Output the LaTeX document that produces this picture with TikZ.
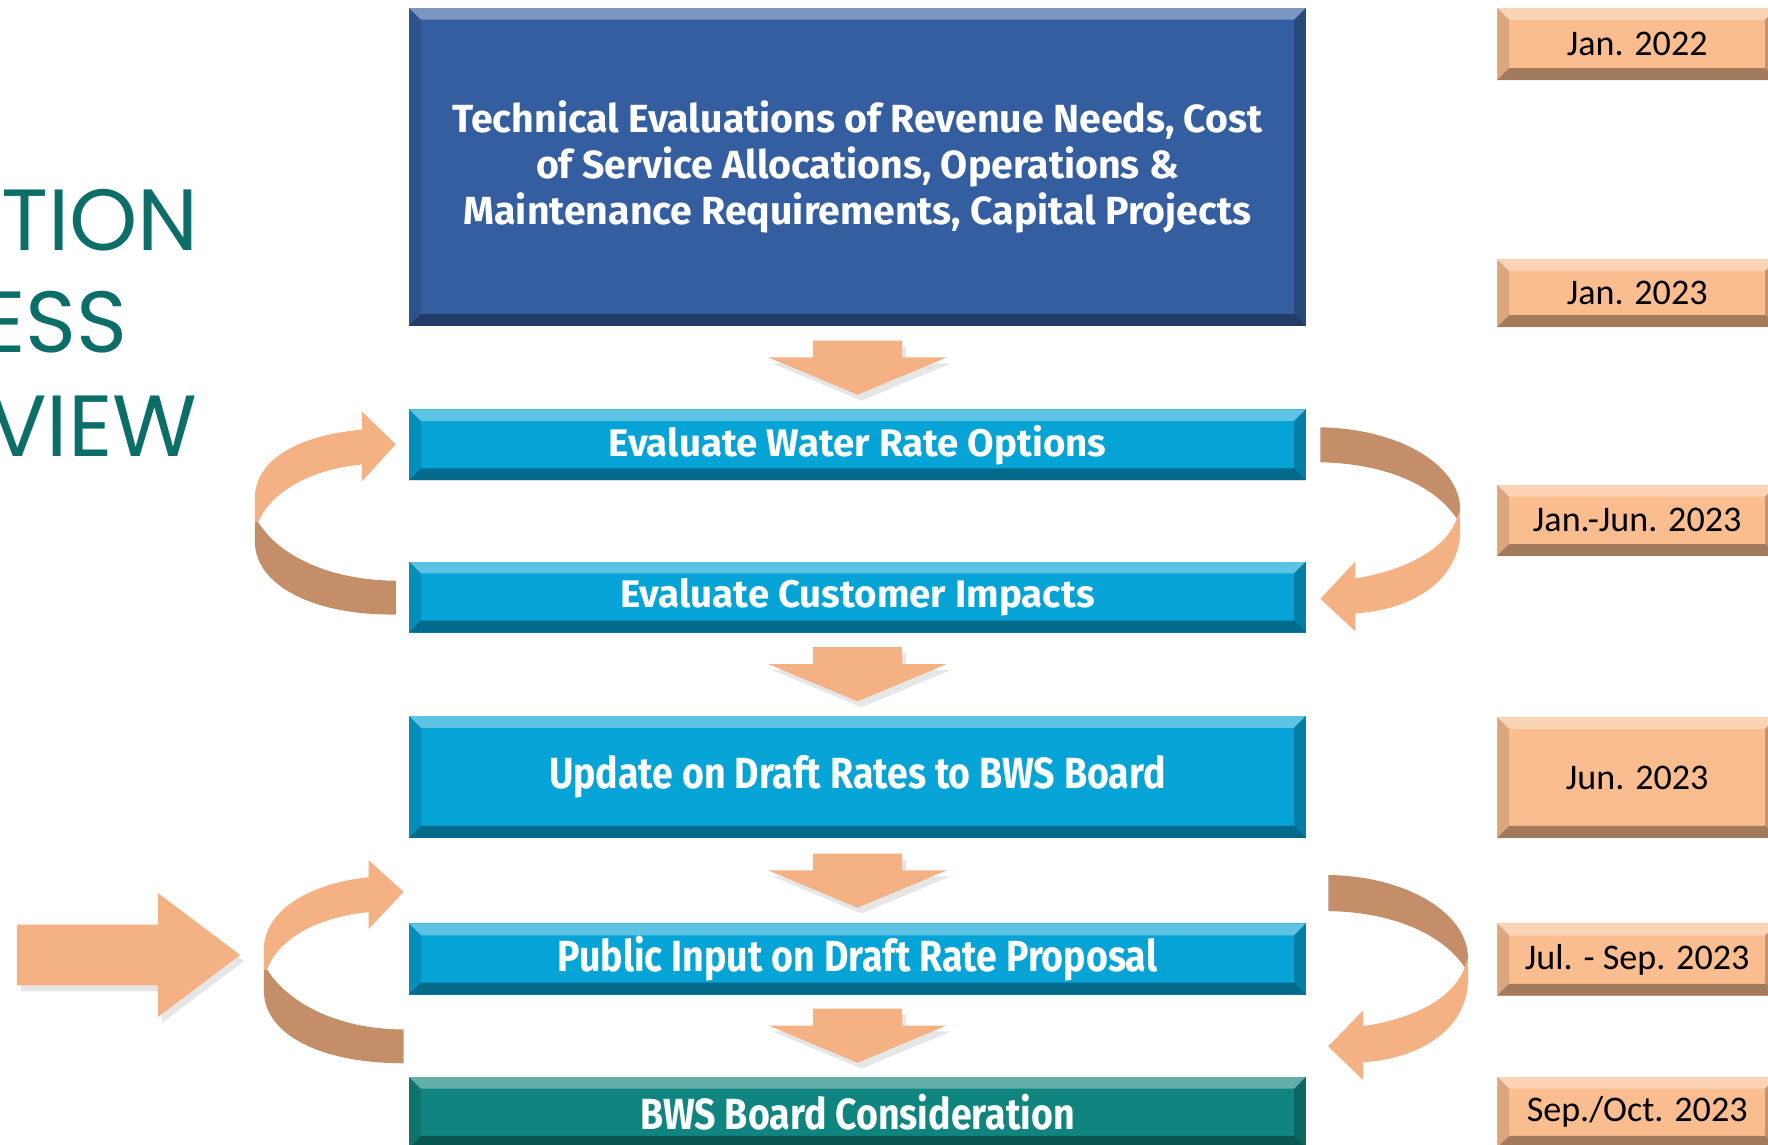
\documentclass[tikz,border=0pt]{standalone}
\usepackage{fontspec}
\setmainfont{Carlito}
\newfontfamily\stagefont{Fira Sans}
\newfontfamily\stagefontcn[FakeStretch=0.86]{Fira Sans}
\newfontfamily\titlefont{Poppins}
\usetikzlibrary{shadows,calc}

\definecolor{techblue}{HTML}{355EA0}
\definecolor{stagecyan}{HTML}{05A3D6}
\definecolor{boardteal}{HTML}{10857F}
\definecolor{datepeach}{HTML}{FABD8F}
\definecolor{arrowpeach}{HTML}{F4B183}
\definecolor{arrowbrown}{HTML}{C38E68}
\definecolor{titleteal}{HTML}{0D6E69}

\begin{document}
\begin{tikzpicture}[x=0.01cm,y=-0.01cm,
    bevel/.style={path picture={
        \coordinate (bnw) at (path picture bounding box.north west);
        \coordinate (bne) at (path picture bounding box.north east);
        \coordinate (bsw) at (path picture bounding box.south west);
        \coordinate (bse) at (path picture bounding box.south east);
        \fill[white,opacity=.35] (bnw) -- (bne) -- ([shift={(-3pt,-3pt)}]bne) -- ([shift={(3pt,-3pt)}]bnw) -- cycle;
        \fill[black,opacity=.35] (bsw) -- (bse) -- ([shift={(-3pt,3pt)}]bse) -- ([shift={(3pt,3pt)}]bsw) -- cycle;
        \fill[black,opacity=.12] (bnw) -- (bsw) -- ([shift={(3pt,3pt)}]bsw) -- ([shift={(3pt,-3pt)}]bnw) -- cycle;
        \fill[black,opacity=.22] (bne) -- (bse) -- ([shift={(-3pt,3pt)}]bse) -- ([shift={(-3pt,-3pt)}]bne) -- cycle;
    }},
    stage/.style={rectangle,fill=stagecyan,bevel,minimum width=7.95cm,inner sep=0pt,text=white,align=center,
        font=\stagefont\bfseries\fontsize{9.7}{11.6}\selectfont},
    bigstage/.style={stage,font=\stagefontcn\bfseries\fontsize{11}{13}\selectfont},
    datebox/.style={rectangle,fill=datepeach,bevel,minimum width=2.48cm,inner sep=0pt,font=\fontsize{9.1}{11}\selectfont},
    titletext/.style={anchor=base east,inner sep=0pt,text=titleteal,font=\titlefont\fontsize{21.9}{26}\selectfont},
    flowarrow/.style={fill=arrowpeach,drop shadow={opacity=.2,shadow xshift=1pt,shadow yshift=-1.5pt}},
    downarrow/.pic={\fill[flowarrow] (-39.5,-24) -- (39.5,-24) -- (39.5,-9) -- (79,-9) -- (0,24) -- (-79,-9) -- (-39.5,-9) -- cycle;}
]
    \useasboundingbox (0,0) rectangle (1568,1015);
    \clip (0,0) rectangle (1568,1015);

    \node[titletext] (title1) at (177,222) {TION};
    \node[titletext] (title2) at (114,313) {ESS};
    \node[titletext] (title3) at (176,405) {VIEW};

    \node[stage,fill=techblue,minimum height=2.82cm,font=\stagefont\bfseries\fontsize{9.9}{11.55}\selectfont] (tech) at (760.5,148)
        {Technical Evaluations of Revenue Needs, Cost\\of Service Allocations, Operations \&\\Maintenance Requirements, Capital Projects};
    \node[stage,minimum height=0.63cm] (water) at (760.5,394.5) {Evaluate Water Rate Options};
    \node[stage,minimum height=0.63cm] (customer) at (760.5,529.5) {Evaluate Customer Impacts};
    \node[bigstage,minimum height=1.08cm] (update) at (760.5,689) {Update on Draft Rates to BWS Board};
    \node[bigstage,minimum height=0.63cm] (public) at (760.5,850.5) {Public Input on Draft Rate Proposal};
    \node[bigstage,fill=boardteal,minimum height=0.63cm] (board) at (760.5,986.5) {BWS Board Consideration};

    \node[datebox,minimum height=0.64cm] (d2022) at (1452,39) {Jan. 2022};
    \node[datebox,minimum height=0.60cm] (d2023) at (1452,260) {Jan. 2023};
    \node[datebox,minimum height=0.63cm] (dhalf) at (1452,461.5) {Jan.-Jun. 2023};
    \node[datebox,minimum height=1.07cm] (djun) at (1452,689.5) {Jun. 2023};
    \node[datebox,minimum height=0.64cm] (dsep) at (1452,851) {Jul. - Sep. 2023};
    \node[datebox,minimum height=0.63cm] (doct) at (1452,986.5) {Sep./Oct. 2023};

    \pic at ($(tech.south)!.5!(water.north)$) {downarrow};
    \pic at ($(customer.south)!.5!(update.north)$) {downarrow};
    \pic at ($(update.south)!.5!(public.north)$) {downarrow};
    \pic at ($(public.south)!.5!(board.north)$) {downarrow};

    \fill[arrowpeach] (226,463) -- (226,440) .. controls (228,405) and (268,386) .. (321,381) -- (321,365) -- (351,394)
        -- (321,427) -- (321,412) .. controls (275,416) and (240,437) .. (229,463) -- cycle;
    \fill[arrowbrown] (229,463) .. controls (250,497) and (300,515) .. (351,515) -- (351,545)
        .. controls (280,546) and (226,520) .. (226,480) -- (226,463) -- cycle;

    \fill[arrowbrown] (1171,379) .. controls (1240,380) and (1295,412) .. (1295,452) -- (1292,460)
        .. controls (1272,430) and (1228,411) .. (1171,410) -- cycle;
    \fill[arrowpeach] (1292,460) -- (1295,452) -- (1295,470) .. controls (1295,515) and (1252,541) .. (1202,544)
        -- (1202,560) -- (1171,531) -- (1202,498) -- (1202,513) .. controls (1245,506) and (1282,488) .. (1292,460) -- cycle;

    \fill[flowarrow] (15,820) -- (140,820) -- (140,792) -- (213,847) -- (140,902) -- (140,874) -- (15,874) -- cycle;

    \fill[arrowpeach] (234,860) -- (234,840) .. controls (236,805) and (278,783) .. (327,778) -- (327,763) -- (358,791)
        -- (327,824) -- (327,809) .. controls (282,813) and (246,833) .. (237,860) -- cycle;
    \fill[arrowbrown] (237,860) .. controls (258,893) and (305,913) .. (358,913) -- (358,943)
        .. controls (285,943) and (234,918) .. (234,878) -- (234,860) -- cycle;

    \fill[arrowbrown] (1178,776) .. controls (1248,777) and (1302,810) .. (1302,850) -- (1299,858)
        .. controls (1279,828) and (1235,809) .. (1178,808) -- cycle;
    \fill[arrowpeach] (1299,858) -- (1302,850) -- (1302,868) .. controls (1302,913) and (1259,939) .. (1209,942)
        -- (1209,958) -- (1178,928) -- (1209,896) -- (1209,910) .. controls (1252,904) and (1289,886) .. (1299,858) -- cycle;
\end{tikzpicture}
\end{document}
